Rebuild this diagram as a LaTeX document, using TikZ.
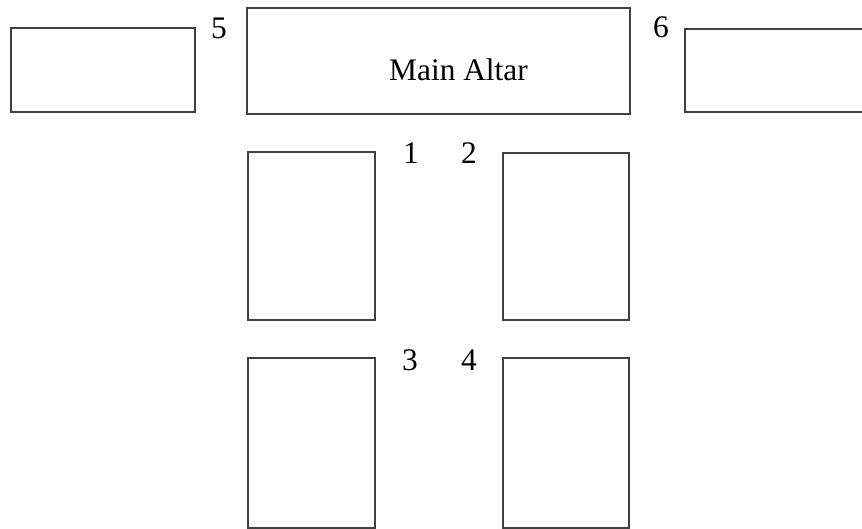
\documentclass[tikz,border=0pt]{standalone}
\usepackage{fontspec}
\setmainfont{Liberation Serif}
\usetikzlibrary{positioning}

\tikzset{
	seat/.style={draw=black!75, line width=0.9pt},
	tag/.style={anchor=base, inner sep=0pt, font=\fontsize{26.8}{31}\selectfont}
}

\begin{document}
\begin{tikzpicture}[x=0.03cm,y=-0.03cm]
	\useasboundingbox (0,0) rectangle (862,529);

	% altar and the two side tables
	\draw[seat] (11,28) rectangle (195,112);
	\draw[seat] (247,8) rectangle (630,114);
	\draw[seat] (685,29) rectangle (890,112);

	\node[tag] (altar) at (458.5,80) {Main Altar};
	\node[tag] (n5) at (219,38) {5};
	\node[tag] (n6) at (661,37) {6};

	% front pews
	\draw[seat] (248,152) rectangle (375,320);
	\draw[seat] (503,153) rectangle (629,320);

	\node[tag] (n1) at (411,163) {1};
	\node[tag] (n2) at (469,163) {2};

	% back pews
	\draw[seat] (248,358) rectangle (375,528);
	\draw[seat] (503,358) rectangle (629,528);

	\node[tag] (n3) at (410,370) {3};
	\node[tag] (n4) at (469,370) {4};
\end{tikzpicture}
\end{document}
